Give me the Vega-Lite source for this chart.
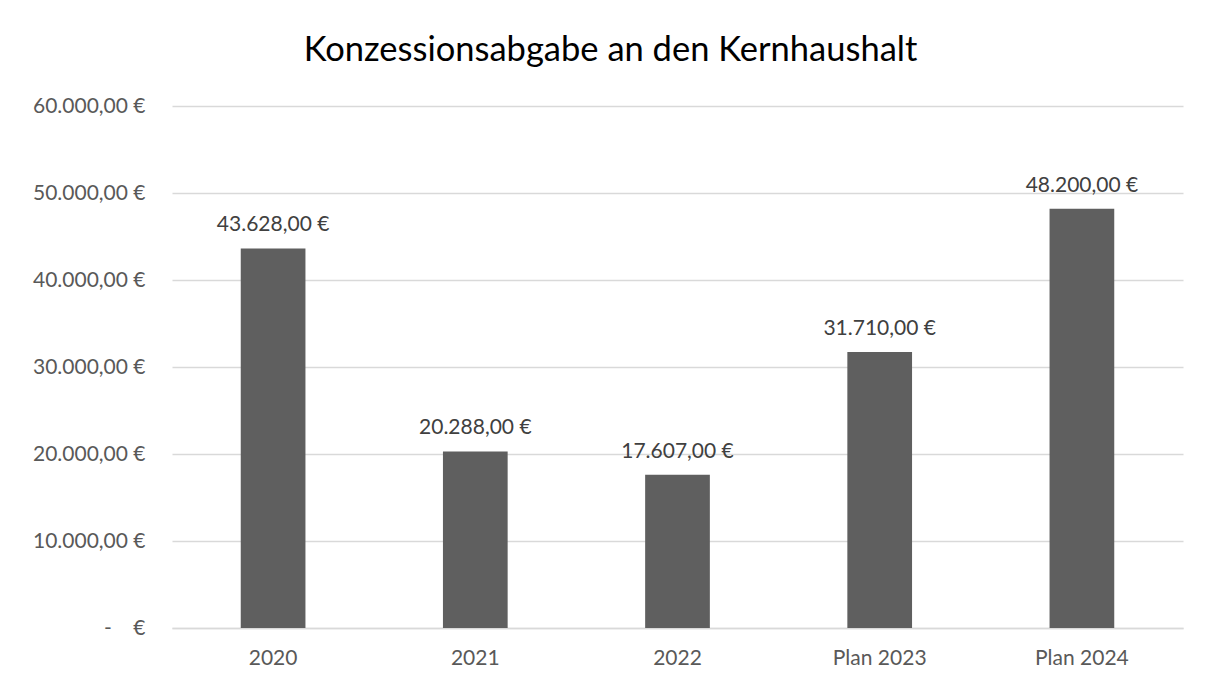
{
  "$schema": "https://vega.github.io/schema/vega-lite/v6.json",
  "width": 1011,
  "height": 522,
  "autosize": "none",
  "padding": {"left": 172, "top": 106, "right": 23, "bottom": 60},
  "background": "white",
  "config": {
    "view": {"stroke": null},
    "font": "Lato",
    "locale": {
      "number": {"decimal": ",", "thousands": ".", "grouping": [3], "currency": ["", "\u00a0€"]}
    }
  },
  "title": {
    "text": "Konzessionsabgabe an den Kernhaushalt",
    "font": "Lato",
    "fontSize": 34.5,
    "fontWeight": "normal",
    "color": "#000000",
    "anchor": "middle",
    "dx": -67,
    "offset": 27
  },
  "data": {
    "values": [
      {"jahr": "2020", "betrag": 43628},
      {"jahr": "2021", "betrag": 20288},
      {"jahr": "2022", "betrag": 17607},
      {"jahr": "Plan 2023", "betrag": 31710},
      {"jahr": "Plan 2024", "betrag": 48200}
    ]
  },
  "encoding": {
    "x": {
      "field": "jahr",
      "type": "nominal",
      "sort": null,
      "scale": {"paddingInner": 0.68, "paddingOuter": 0.34},
      "axis": {
        "title": null,
        "labelAngle": 0,
        "labelFont": "Lato",
        "labelFontSize": 21,
        "labelColor": "#595959",
        "labelPadding": 19,
        "ticks": false,
        "domain": true,
        "domainColor": "#d9d9d9",
        "domainWidth": 1.5
      }
    },
    "y": {
      "field": "betrag",
      "type": "quantitative",
      "scale": {"domain": [0, 60000], "nice": false},
      "axis": {
        "title": null,
        "values": [0, 10000, 20000, 30000, 40000, 50000, 60000],
        "format": "$,.2f",
        "labelExpr": "datum.value == 0 ? '-\u00a0\u00a0\u00a0\u00a0€' : datum.label",
        "labelFont": "Lato",
        "labelFontSize": 21,
        "labelColor": "#595959",
        "labelPadding": 27,
        "ticks": false,
        "domain": false,
        "gridColor": "#d9d9d9",
        "gridWidth": 1.5
      }
    }
  },
  "layer": [
    {
      "mark": {"type": "bar", "color": "#5f5f5f"}
    },
    {
      "mark": {"type": "text", "baseline": "bottom", "dy": -13, "font": "Lato", "fontSize": 21, "color": "#404040"},
      "encoding": {
        "text": {"field": "betrag", "type": "quantitative", "format": "$,.2f"}
      }
    }
  ]
}
